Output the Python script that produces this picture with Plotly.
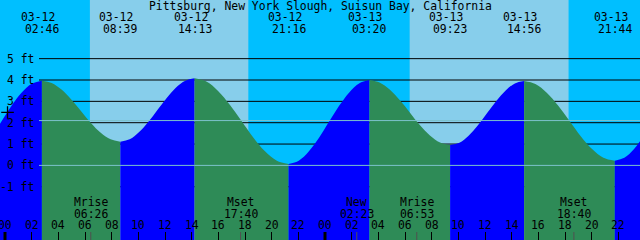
import plotly.graph_objects as go

STATION = "Pittsburg, New York Slough, Suisun Bay, California"

# Tide extremes (date, time, level in ft)
EVENT_DATES = ["03-12", "03-12", "03-12", "03-12", "03-13", "03-13", "03-13", "03-13"]
EVENT_TIMES = ["02:46", "08:39", "14:13", "21:16", "03:20", "09:23", "14:56", "21:44"]
EVENT_FT = [3.97, 1.11, 4.08, 0.07, 4.00, 0.95, 3.95, 0.22]

# Tide curve readings between the extremes: hours after 03-12 00:00, level in ft
CURVE_H = [-1.05, -0.28, 0.48, 1.24, 2.00,
           3.50, 4.24, 4.97, 5.71, 6.44, 7.18, 7.92,
           9.35, 10.04, 10.74, 11.43, 12.13, 12.83, 13.52,
           15.10, 15.98, 16.86, 17.74, 18.62, 19.50, 20.39,
           22.03, 22.78, 23.54, 24.30, 25.06, 25.82, 26.58,
           28.09, 28.85, 29.60, 30.36, 31.11, 31.87, 32.63,
           34.08, 34.77, 35.47, 36.16, 36.85, 37.55, 38.24,
           39.78, 40.63, 41.48, 42.33, 43.18, 44.03, 44.88,
           46.45, 47.18, 47.90]
CURVE_FT = [1.29, 2.04, 2.78, 3.40, 3.82,
            3.86, 3.55, 3.09, 2.54, 1.99, 1.53, 1.22,
            1.22, 1.55, 2.03, 2.60, 3.16, 3.65, 3.97,
            3.93, 3.49, 2.84, 2.08, 1.31, 0.66, 0.22,
            0.22, 0.65, 1.28, 2.04, 2.79, 3.42, 3.85,
            3.88, 3.55, 3.06, 2.48, 1.89, 1.40, 1.07,
            1.06, 1.39, 1.88, 2.45, 3.02, 3.51, 3.84,
            3.81, 3.40, 2.80, 2.09, 1.37, 0.77, 0.36,
            0.36, 0.77, 1.39]

# Daylight
SUNRISE = [("03-12", "06:22"), ("03-13", "06:21")]
SUNSET = [("03-12", "18:15"), ("03-13", "18:16")]

# Moon events
MOON_NAMES = ["Mrise", "Mset", "New", "Mrise", "Mset"]
MOON_DATES = ["03-12", "03-12", "03-13", "03-13", "03-13"]
MOON_TIMES = ["06:26", "17:40", "02:23", "06:53", "18:40"]

HOUR_TICKS = list(range(0, 50, 2))
HOUR_LABELS = ["%02d" % (h % 24) for h in HOUR_TICKS]
MIDNIGHTS = [0, 24, 48]
DEPTH_FT = [-1, 0, 1, 2, 3, 4, 5]
DEPTH_LABELS = ["-1 ft", "0 ft", "1 ft", "2 ft", "3 ft", "4 ft", "5 ft"]
DATUM_FT = 0.0
MEAN_FT = 2.1
MARK_H, MARK_FT = 0.19, 2.48

# colours
NIGHT = "#00BFFF"
DAY = "#87CEEB"
RISE = "#0000FF"
FALL = "#2E8B57"
REFLINE = "#7cc2cc"

X_RANGE = [-0.375, 47.625]
Y_RANGE = [-3.494, 7.747]
W, H = 640, 240
FONT = dict(family="DejaVu Sans Mono", size=11.4, color="black")


def to_h(date, time):
    day = int(date[3:]) - 12
    hh, mm = time.split(":")
    return day * 24 + int(hh) + int(mm) / 60.0


def py(px):
    return 1 - px / H


event_h = [to_h(d, t) for d, t in zip(EVENT_DATES, EVENT_TIMES)]
moon_h = [to_h(d, t) for d, t in zip(MOON_DATES, MOON_TIMES)]

fig = go.Figure()

# merge extremes with readings, then split into rising / falling runs
pts = sorted(list(zip(CURVE_H, CURVE_FT)) + list(zip(event_h, EVENT_FT)))
cuts = [0]
for i in range(1, len(pts) - 1):
    if (pts[i][1] - pts[i - 1][1]) * (pts[i + 1][1] - pts[i][1]) < 0:
        cuts.append(i)
cuts.append(len(pts) - 1)
for a, b in zip(cuts[:-1], cuts[1:]):
    seg = pts[a:b + 1]
    xs = [p[0] for p in seg]
    ys = [p[1] for p in seg]
    rising = ys[-1] > ys[0]
    fig.add_trace(go.Scatter(x=[xs[0], xs[-1]], y=[Y_RANGE[0] - 1] * 2, mode="lines",
                             line=dict(width=0), hoverinfo="skip", showlegend=False))
    fig.add_trace(go.Scatter(x=xs, y=ys, mode="lines", fill="tonexty",
                             fillcolor=RISE if rising else FALL,
                             line=dict(width=0, shape="spline", smoothing=1),
                             hoverinfo="skip", showlegend=False))

fig.add_trace(go.Scatter(x=[MARK_H], y=[MARK_FT], mode="markers",
                         marker=dict(symbol="cross-thin", size=9,
                                     line=dict(width=1.3, color="black")),
                         hoverinfo="skip", showlegend=False))

shapes = []
for (d0, t0), (d1, t1) in zip(SUNRISE, SUNSET):
    shapes.append(dict(type="rect", xref="x", yref="paper", x0=to_h(d0, t0), x1=to_h(d1, t1),
                       y0=0, y1=1, fillcolor=DAY, line=dict(width=0), layer="below"))
for f in DEPTH_FT:
    shapes.append(dict(type="line", xref="paper", yref="y", x0=39 / W, x1=1, y0=f, y1=f,
                       line=dict(color="black", width=1), layer="below"))
for f in [DATUM_FT, MEAN_FT]:
    shapes.append(dict(type="line", xref="paper", yref="y", x0=39 / W, x1=1, y0=f, y1=f,
                       line=dict(color=REFLINE, width=1), layer="above"))
for m in MIDNIGHTS:
    shapes.append(dict(type="line", xref="x", yref="paper", x0=m, x1=m, y0=0, y1=8 / H,
                       line=dict(color="black", width=3), layer="above"))
for m in moon_h:
    shapes.append(dict(type="line", xref="x", yref="paper", x0=m, x1=m, y0=0, y1=8 / H,
                       line=dict(color="#505050", width=1), layer="above"))

ann = []
ann.append(dict(text=STATION, xref="paper", yref="paper", x=0.5, y=py(5.5),
                xanchor="center", yanchor="middle", showarrow=False, font=FONT))
for h, d, t in zip(event_h, EVENT_DATES, EVENT_TIMES):
    ann.append(dict(text=d, xref="x", yref="paper", x=h, y=py(17.5), xshift=-4,
                    xanchor="center", yanchor="middle", showarrow=False, font=FONT))
    ann.append(dict(text=t, xref="x", yref="paper", x=h, y=py(29.3),
                    xanchor="center", yanchor="middle", showarrow=False, font=FONT))
for f, lab in zip(DEPTH_FT, DEPTH_LABELS):
    ann.append(dict(text=lab, xref="paper", yref="y", x=35.5 / W, y=f,
                    xanchor="right", yanchor="middle", showarrow=False, font=FONT))
for h, n, t in zip(moon_h, MOON_NAMES, MOON_TIMES):
    ann.append(dict(text=n, xref="x", yref="paper", x=h, y=py(202),
                    xanchor="center", yanchor="middle", showarrow=False, font=FONT))
    ann.append(dict(text=t, xref="x", yref="paper", x=h, y=py(213.7),
                    xanchor="center", yanchor="middle", showarrow=False, font=FONT))
for h, lab in zip(HOUR_TICKS, HOUR_LABELS):
    ann.append(dict(text=lab, xref="x", yref="paper", x=h, y=py(225),
                    xanchor="center", yanchor="middle", showarrow=False, font=FONT))

fig.update_layout(
    width=W, height=H, margin=dict(l=0, r=0, t=0, b=0, pad=0),
    paper_bgcolor=NIGHT, plot_bgcolor=NIGHT,
    shapes=shapes, annotations=ann, showlegend=False,
    xaxis=dict(range=X_RANGE, showgrid=False, zeroline=False, showline=False,
               tickvals=HOUR_TICKS, ticks="inside", ticklen=8, tickwidth=1,
               tickcolor="black", showticklabels=False, fixedrange=True),
    yaxis=dict(range=Y_RANGE, showgrid=False, zeroline=False, showline=False,
               showticklabels=False, ticks="", fixedrange=True),
)
fig.write_html("out.html", config=dict(displayModeBar=False))
